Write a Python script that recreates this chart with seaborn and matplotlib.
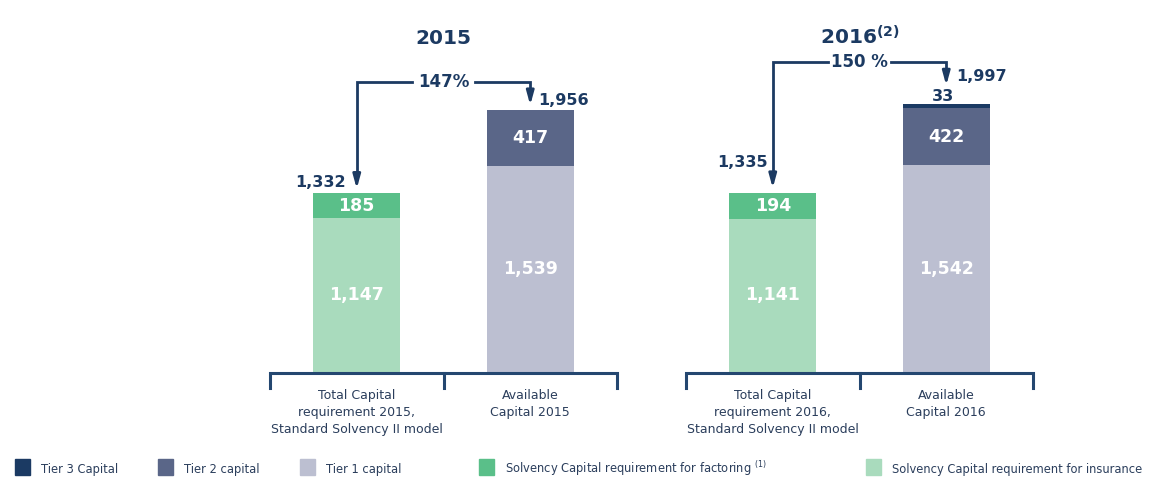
import matplotlib.pyplot as plt
from matplotlib.patches import Rectangle
import seaborn as sns
import pandas as pd

NAVY = "#1c3a62"
colors = {
    "Tier 3 Capital": "#1b3a63",
    "Tier 2 capital": "#5a6688",
    "Tier 1 capital": "#bcbfd1",
    "Solvency Capital requirement for factoring": "#5abf89",
    "Solvency Capital requirement for insurance": "#a9dbbd",
}

# stacked segments, bottom to top
data = pd.DataFrame([
    ("2015", "req", "Solvency Capital requirement for insurance", 1147),
    ("2015", "req", "Solvency Capital requirement for factoring", 185),
    ("2015", "avail", "Tier 1 capital", 1539),
    ("2015", "avail", "Tier 2 capital", 417),
    ("2016", "req", "Solvency Capital requirement for insurance", 1141),
    ("2016", "req", "Solvency Capital requirement for factoring", 194),
    ("2016", "avail", "Tier 1 capital", 1542),
    ("2016", "avail", "Tier 2 capital", 422),
    ("2016", "avail", "Tier 3 Capital", 33),
], columns=["year", "bar", "segment", "value"])

panels = {
    "2015": {"left": 270, "ratio": "147%", "arrow_y": 2165, "tips": (1345, 1968),
             "tot_pos": [(-0.065, 1410), (1.045, 2025)]},
    "2016": {"left": 686, "ratio": "150 %", "arrow_y": 2312, "tips": (1350, 2115),
             "tot_pos": [(-0.03, 1565), (1.06, 2200)]},
}
xlabels = {
    "2015": ["Total Capital\nrequirement 2015,\nStandard Solvency II model", "Available\nCapital 2015"],
    "2016": ["Total Capital\nrequirement 2016,\nStandard Solvency II model", "Available\nCapital 2016"],
}

W, H = 1155, 478
fig = plt.figure(figsize=(W / 100, H / 100), dpi=100)

for year, p in panels.items():
    ax = fig.add_axes([p["left"] / W, (H - 372) / H, 347 / W, 322 / H])
    df = data[data["year"] == year]
    for b, grp in df.groupby("bar", sort=False):
        bottom = 0
        for _, row in grp.iterrows():
            sns.barplot(x=[row["bar"]], y=[row["value"]], order=["req", "avail"], bottom=bottom,
                        color=colors[row["segment"]], saturation=1, width=0.5, errorbar=None,
                        linewidth=0, ax=ax)
            xc = 0 if b == "req" else 1
            if row["value"] > 100:
                ax.text(xc, bottom + row["value"] / 2, f"{row['value']:,}", ha="center", va="center",
                        color="white", fontsize=12.5, fontweight="bold")
            else:
                ax.text(xc - 0.02, bottom + row["value"] + 60, f"{row['value']:,}", ha="center",
                        va="center", color=NAVY, fontsize=11.5, fontweight="bold")
            bottom += row["value"]

    totals = df.groupby("bar", sort=False)["value"].sum().tolist()
    (x0, y0), (x1, y1) = p["tot_pos"]
    ax.text(x0, y0, f"{totals[0]:,}", ha="right", va="center", color=NAVY, fontsize=11.5, fontweight="bold")
    ax.text(x1, y1, f"{totals[1]:,}", ha="left", va="center", color=NAVY, fontsize=11.5, fontweight="bold")

    # ratio arrow
    ay = p["arrow_y"]
    ax.plot([0, 0, 0.32], [p["tips"][0] + 120, ay, ay], color=NAVY, lw=2, solid_joinstyle="miter")
    ax.plot([0.68, 1, 1], [ay, ay, p["tips"][1] + 120], color=NAVY, lw=2, solid_joinstyle="miter")
    ax.annotate("", xy=(0, p["tips"][0]), xytext=(0, p["tips"][0] + 130),
                arrowprops=dict(arrowstyle="-|>,head_length=0.8,head_width=0.22", color=NAVY, lw=2))
    ax.annotate("", xy=(1, p["tips"][1]), xytext=(1, p["tips"][1] + 130),
                arrowprops=dict(arrowstyle="-|>,head_length=0.8,head_width=0.22", color=NAVY, lw=2))
    ax.text(0.5, ay, p["ratio"], ha="center", va="center", color=NAVY, fontsize=12, fontweight="bold")

    # bracket axis
    ax.plot([-0.5, -0.5, 1.5, 1.5], [-120, -8, -8, -120], color="#244770", lw=2.2, clip_on=False,
            solid_joinstyle="miter")
    ax.plot([0.5, 0.5], [-8, -120], color="#244770", lw=2.2, clip_on=False)
    for xc, lab in enumerate(xlabels[year]):
        ax.text(xc, -125, lab, ha="center", va="top", color="#2b3e5c", fontsize=9,
                linespacing=1.4)

    title = "2015" if year == "2015" else r"2016$^{\mathbf{(2)}}$"
    ax.set_title(title, fontsize=14.5, fontweight="bold", color=NAVY, pad=4)
    ax.set_xlim(-0.5, 1.5)
    ax.set_ylim(0, 2400)
    ax.axis("off")

# legend
legend_items = [
    (15, "Tier 3 Capital", "Tier 3 Capital"),
    (158, "Tier 2 capital", "Tier 2 capital"),
    (300, "Tier 1 capital", "Tier 1 capital"),
    (479, "Solvency Capital requirement for factoring", "Solvency Capital requirement for factoring $^{(1)}$"),
    (866, "Solvency Capital requirement for insurance", "Solvency Capital requirement for insurance"),
]
for x, key, text in legend_items:
    fig.patches.append(Rectangle((x / W, (H - 475) / H), 15 / W, 16 / H, transform=fig.transFigure,
                                 color=colors[key], figure=fig))
    fig.text((x + 26) / W, (H - 469) / H, text, ha="left", va="center", color="#2b3e5c", fontsize=8.3)

fig.savefig("out.png", dpi=100)
